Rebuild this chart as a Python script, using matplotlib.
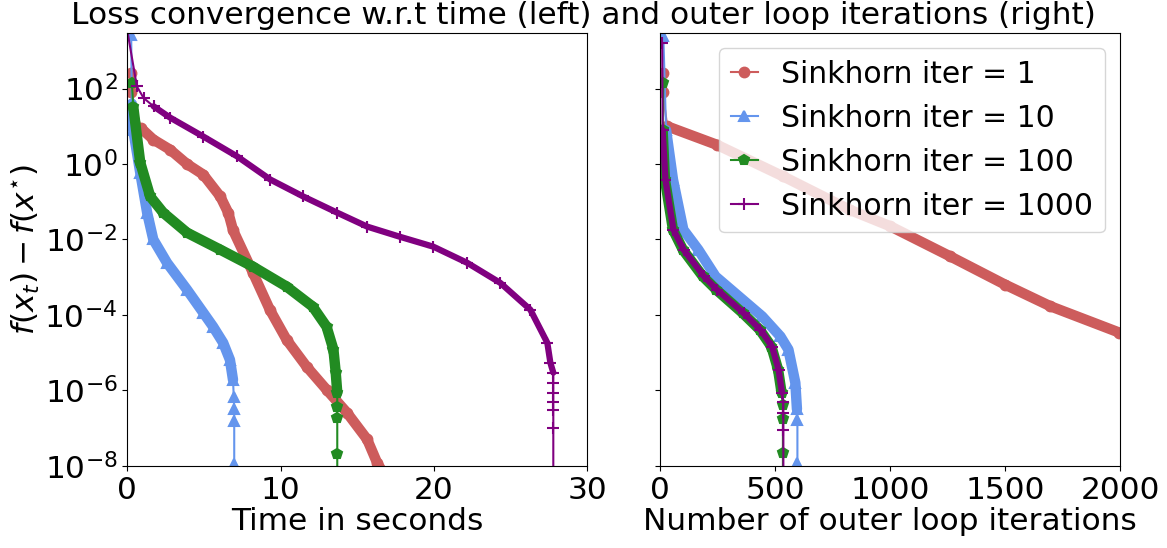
import numpy as np
import matplotlib
matplotlib.use("Agg")
import matplotlib.pyplot as plt
from matplotlib.ticker import LogLocator, NullLocator

# ---- data (loss values given as log10 exponents) ----
labels = ["Sinkhorn iter = 1", "Sinkhorn iter = 10",
          "Sinkhorn iter = 100", "Sinkhorn iter = 1000"]

# left panel: time in seconds
red_t = [0.27, 0.25, 0.9, 1.7, 2.8, 3.9, 4.96, 6.07, 6.6, 6.9, 8.2, 9.3,
         10.4, 11.7, 13.0, 14.35, 15.65, 16.3, 17.0]
red_t_exp = [2.42, 1.92, 0.95, 0.65, 0.38, 0.0, -0.28, -0.86, -1.3, -1.75,
             -2.88, -3.86, -4.66, -5.37, -5.98, -6.6, -7.3, -7.92, -8.4]

blue_t = [0.26, 0.3, 0.39, 0.85, 1.3, 1.7, 2.6, 3.9, 4.96, 5.6, 6.26, 6.7,
          6.9, 6.95, 6.98, 6.98, 6.98]
blue_t_exp = [3.43, 1.6, 0.91, -0.23, -1.29, -2.0, -2.62, -3.33, -3.94,
              -4.31, -4.74, -5.19, -5.72, -6.17, -6.5, -6.8, -7.95]

green_t = [0.3, 0.4, 0.85, 1.5, 2.35, 3.9, 6.07, 8.2, 10.4, 12.1, 13.0,
           13.45, 13.6, 13.7, 13.7, 13.7, 13.7, 13.7]
green_t_exp = [2.16, 1.5, 0.04, -0.86, -1.29, -1.82, -2.27, -2.72, -3.25,
               -3.78, -4.31, -4.92, -5.53, -6.06, -6.43, -6.73, -7.68, -9.0]

purple_t = [0.03, 0.63, 1.07, 1.72, 2.8, 4.96, 7.18, 9.33, 11.48, 13.7,
            15.66, 17.8, 19.96, 22.18, 24.33, 26.29, 27.4, 27.6, 27.79,
            27.79, 27.79, 27.79, 27.79, 27.79, 27.79]
purple_t_exp = [3.48, 2.06, 1.75, 1.53, 1.23, 0.73, 0.2, -0.41, -0.86, -1.29,
                -1.66, -1.93, -2.19, -2.62, -3.15, -3.86, -4.74, -5.27,
                -5.53, -5.8, -6.06, -6.3, -6.51, -7.0, -9.0]

# right panel: outer loop iterations
red_it = [10, 10, 30, 246, 535, 826, 1000, 1261, 1500, 1696, 1996, 2050]
red_it_exp = [2.42, 1.92, 1.0, 0.51, -0.33, -1.22, -1.65, -2.45, -3.2,
              -3.77, -4.47, -4.6]

blue_it = [13, 25, 55, 100, 165, 240, 443, 522, 557, 587, 594, 596, 596]
blue_it_exp = [3.4, 0.9, -0.41, -1.74, -2.27, -2.98, -4.04, -4.57, -4.92,
               -5.8, -6.5, -6.78, -7.92]

green_it = [13, 10, 20, 55, 98, 185, 243, 358, 432, 483, 512, 527, 533,
            533, 533, 533]
green_it_exp = [2.16, 0.9, -0.41, -1.74, -2.27, -2.98, -3.33, -3.95, -4.39,
                -4.84, -5.45, -6.06, -6.4, -6.75, -7.65, -9.0]

purple_it = [8, 10, 22, 57, 101, 190, 246, 362, 435, 486, 514, 529, 535,
             535, 535, 535]
purple_it_exp = [3.2, 0.9, -0.41, -1.74, -2.27, -2.98, -3.33, -3.95, -4.39,
                 -4.84, -5.45, -6.06, -6.3, -6.6, -7.05, -9.0]

colors = ["#CD5C5C", "#6495ED", "#228B22", "#800080"]
markers = ["o", "^", "p", "+"]
band_widths = [7.5, 7.5, 7.5, 4.5]
marker_sizes = [7, 7, 7, 8]

# index ranges (start, stop) where the markers are so dense they form a band
left_series = [
    (red_t, red_t_exp, (2, 19)),
    (blue_t, blue_t_exp, (1, 13)),
    (green_t, green_t_exp, (1, 14)),
    (purple_t, purple_t_exp, (3, 19)),
]
right_series = [
    (red_it, red_it_exp, (2, 12)),
    (blue_it, blue_it_exp, (1, 11)),
    (green_it, green_it_exp, (1, 12)),
    (purple_it, purple_it_exp, (1, 12)),
]

FS = 22.5


def draw(ax, series, with_labels=False):
    for i, (x, e, (a, b)) in enumerate(series):
        x = np.asarray(x, dtype=float)
        y = 10.0 ** np.asarray(e, dtype=float)
        ax.plot(x[a:b], y[a:b], color=colors[i], lw=band_widths[i],
                solid_capstyle="round", solid_joinstyle="round")
        ax.plot(x, y, color=colors[i], marker=markers[i], lw=1.5,
                markersize=marker_sizes[i], mew=1.5,
                label=labels[i] if with_labels else None)


plt.rcParams["mathtext.fontset"] = "dejavusans"
fig, (ax1, ax2) = plt.subplots(1, 2, sharey=True, figsize=(11.67, 5.48), dpi=100)
fig.subplots_adjust(left=0.109, right=0.96, bottom=0.15, top=0.94, wspace=0.159)

draw(ax1, left_series)
draw(ax2, right_series, with_labels=True)

for ax in (ax1, ax2):
    ax.set_yscale("log")
    ax.yaxis.set_major_locator(LogLocator(base=100.0, numticks=20))
    ax.yaxis.set_minor_locator(NullLocator())
    ax.tick_params(labelsize=FS)
ax1.set_ylim(1e-8, 3e3)
ax1.set_xlim(0, 30)
ax1.set_xticks([0, 10, 20, 30])
ax2.set_xlim(0, 2000)
ax2.set_xticks([0, 500, 1000, 1500, 2000])

ax1.set_xlabel("Time in seconds", fontsize=FS, labelpad=2)
ax2.set_xlabel("Number of outer loop iterations", fontsize=FS, labelpad=2)
ax1.set_ylabel(r"$f(x_t) - f(x^{\star})$", fontsize=FS, labelpad=2)
fig.suptitle("Loss convergence w.r.t time (left) and outer loop iterations (right)",
             fontsize=FS, y=0.999)

ax2.legend(loc="upper right", fontsize=21.5, handlelength=0.9)

plt.savefig("out.png", dpi=100)
